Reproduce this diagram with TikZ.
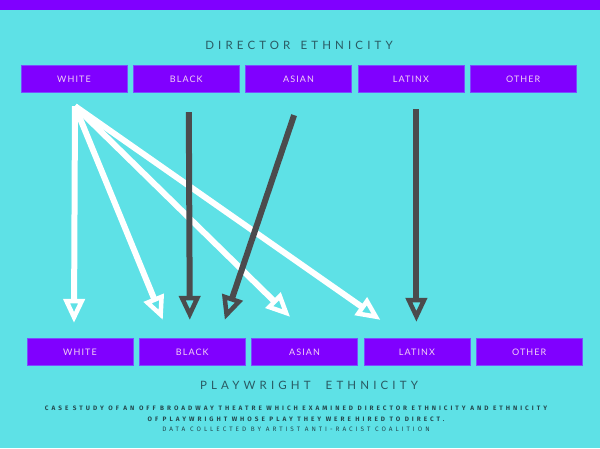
\documentclass[tikz,border=0pt]{standalone}
\usepackage{fontspec}
\setmainfont{Lato}
\newfontfamily\headfont[LetterSpace=36]{Lato}
\newfontfamily\boxfont[LetterSpace=12]{Lato}
\newfontfamily\notefont[LetterSpace=47]{Fira Sans}
\usetikzlibrary{arrows.meta,positioning,calc}
\definecolor{bgcyan}{HTML}{5EE1E6}
\definecolor{barpurple}{HTML}{8000FF}
\definecolor{boxedge}{HTML}{7A4DFF}
\definecolor{labelpink}{HTML}{F2D2F4}
\definecolor{headteal}{HTML}{2A5A63}
\definecolor{noteteal}{HTML}{24494F}
\definecolor{arrowgray}{HTML}{4B4B4D}
\tikzset{
    ethbox/.style={
        draw=boxedge,
        line width=0.8pt,
        fill=barpurple,
        minimum width=106pt,
        minimum height=27.5pt,
        inner sep=0pt,
        text=labelpink,
        font=\boxfont\fontsize{9}{10}\selectfont
    },
    heading/.style={
        text=headteal,
        font=\headfont\fontsize{11.5}{14}\selectfont
    },
    whiteflow/.style={
        draw=white,
        line width=6pt,
        -{Triangle[open, length=24pt, width=21pt, line width=4.5pt]}
    },
    grayflow/.style={
        draw=arrowgray,
        line width=6pt,
        -{Triangle[open, length=24pt, width=21pt, line width=4.5pt]}
    }
}

\begin{document}
\begin{tikzpicture}[x=1pt, y=-1pt, node distance=5.5pt]
        \useasboundingbox (0,0) rectangle (600,448);
        \fill[bgcyan] (0,0) rectangle (600,448);
        \fill[barpurple] (0,0) rectangle (600,10);
        % director row
        \node[heading] (dirhead) at (299,45) {DIRECTOR\hspace{3pt} ETHNICITY};
        \node[ethbox] (dW) at (74,79) {WHITE};
        \node[ethbox, right=of dW] (dB) {BLACK};
        \node[ethbox, right=of dB] (dA) {ASIAN};
        \node[ethbox, right=of dA] (dL) {LATINX};
        \node[ethbox, right=of dL] (dO) {OTHER};
        % playwright row
        \node[ethbox] (pW) at (80,352) {WHITE};
        \node[ethbox, right=of pW] (pB) {BLACK};
        \node[ethbox, right=of pB] (pA) {ASIAN};
        \node[ethbox, right=of pA] (pL) {LATINX};
        \node[ethbox, right=of pL] (pO) {OTHER};
        \node[heading] (playhead) at (309,385) {PLAYWRIGHT\hspace{8pt} ETHNICITY};
        \node[align=center, text=noteteal, font=\notefont\fontsize{6.4}{10.5}\selectfont] (note) at (296,419) {
            \bfseries CASE STUDY OF AN OFF BROADWAY THEATRE WHICH EXAMINED DIRECTOR ETHNICITY AND ETHNICITY\\
            \bfseries OF PLAYWRIGHT WHOSE PLAY THEY WERE HIRED TO DIRECT.\\
            \mdseries DATA COLLECTED BY ARTIST ANTI-RACIST COALITION
        };
        % arrow ends
        \coordinate (wStart) at ($(dW.south)+(1,13)$);
        \coordinate (toWW) at ($(pW.north)+(-6,-15)$);
        \coordinate (toWB) at ($(pB.north)+(-29.5,-18)$);
        \coordinate (toWA) at ($(pA.north)+(-14.5,-21)$);
        \coordinate (toWL) at ($(pL.north)+(-36.5,-18)$);
        \coordinate (bStart) at ($(dB.south)+(2.5,19)$);
        \coordinate (toBB) at ($(pB.north)+(-2.5,-18)$);
        \coordinate (aStart) at ($(dA.south)+(-4.5,22)$);
        \coordinate (toAB) at ($(pB.north)+(32.5,-18)$);
        \coordinate (lStart) at ($(dL.south)+(5.5,16)$);
        \coordinate (toLL) at ($(pL.north)+(-0.5,-16)$);
        \draw[whiteflow] (wStart) -- (toWW);
        \draw[whiteflow] (wStart) -- (toWB);
        \draw[whiteflow] (wStart) -- (toWA);
        \draw[whiteflow] (wStart) -- (toWL);
        \draw[grayflow] (bStart) -- (toBB);
        \draw[grayflow] (aStart) -- (toAB);
        \draw[grayflow] (lStart) -- (toLL);
    \end{tikzpicture}
\end{document}
